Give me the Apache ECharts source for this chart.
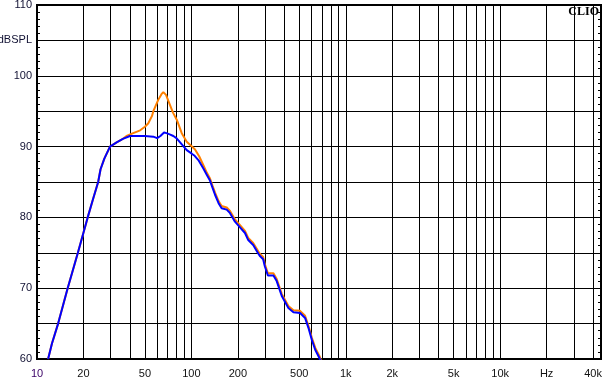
<!DOCTYPE html>
<html>
<head>
<meta charset="utf-8">
<script src="https://cdn.jsdelivr.net/npm/echarts@6/dist/echarts.min.js"></script>
<style>
html,body{margin:0;padding:0;background:#fff;}
#chart{width:611px;height:387px;}
</style>
</head>
<body>
<div id="chart"></div>
<script>
// Frequency response data (Hz, dB SPL)
const blueFreq = [11.8,12.5,13.7,15.8,18.4,21.3,23,24.9,25.8,27.3,29.7,32.8,36,40,50,56.7,60,63,66.5,69,73,76.4,80,84.5,93.3,100.6,105,111,119.6,126,132,137,142.3,150,157,169.4,178,191.6,206.6,222.4,233.5,251.4,271,279,291.7,299,313,340,357,385,425,458,506,545,573,603,634,676,690];
const blueDb   = [60,62.2,65,70,75,80,82.5,85,86.8,88.3,90,90.6,91.1,91.5,91.5,91.4,91.2,91.5,92,91.9,91.7,91.5,91.2,90.6,89.5,89,88.7,88.1,86.9,86.0,85.2,84.2,83.2,82,81.3,81.1,80.6,79.4,78.6,77.8,76.8,76.1,74.9,74.5,74.1,73.1,71.8,71.8,71.0,68.9,67.2,66.6,66.5,65.8,64.4,62.7,61.3,60.1,59.6];

const orangeFreq = [11.8,12.5,13.7,15.8,18.4,21.3,23,24.9,25.8,27.3,29.7,32.8,36,38,42,46.6,50,52.6,55.5,56.7,61,64,65.8,68.5,72.6,76,80.4,86.6,93.3,100,105.6,112.5,120,126,132,137,142.3,150,157,169.4,178,191.6,206.6,222.4,233.5,251.4,271,279,291.7,299,313,340,357,385,425,458,506,545,573,603,634,676,695];
const orangeDb   = [60,62.2,65,70,75,80,82.5,85,86.8,88.3,90,90.6,91.1,91.5,91.9,92.3,92.8,93.3,94.3,95.0,96.6,97.4,97.7,97.3,95.9,94.8,93.8,91.9,90.7,90.1,89.6,88.6,87.3,86.3,85.5,84.5,83.5,82.3,81.6,81.4,80.9,79.7,78.9,78.1,77.1,76.4,75.2,74.8,74.4,73.4,72.1,72.1,71.3,69.2,67.5,66.9,66.8,66.1,64.7,63.0,61.6,60.4,59.6];

const gridFreqs = [10,20,30,40,50,60,70,80,90,100,200,300,400,500,600,700,800,900,1000,2000,3000,4000,5000,6000,7000,8000,9000,10000,20000,30000,40000];
const labelFreqs = [10,20,50,100,200,500,1000,2000,5000,10000,20000,40000];
const freqMin = 10, freqMax = 45000;
const dbMin = 60, dbMax = 110;

const lg = Math.log10;
const toPts = (fs, ds) => fs.map((f, i) => [lg(f), ds[i]]);

function fmtFreq(v) {
  const f = Math.round(Math.pow(10, v));
  if (f === 20000) return 'Hz';
  if (f >= 1000) return (f / 1000) + 'k';
  return String(f);
}

const chart = echarts.init(document.getElementById('chart'), null, {renderer: 'canvas'});
const yCommon = {
  type: 'value', min: dbMin, max: dbMax, interval: 5,
  axisLine: {show: false},
  axisTick: {show: true, inside: true, length: 4, lineStyle: {color: '#000'}},
  minorTick: {show: true, splitNumber: 5, length: 3, lineStyle: {color: '#000'}},
};
chart.setOption({
  animation: false,
  backgroundColor: '#fff',
  grid: {left: 37, right: 10, top: 5, bottom: 28, show: true, borderColor: '#000', borderWidth: 2,
         backgroundColor: 'transparent', containLabel: false, outerBoundsMode: 'none'},
  xAxis: {
    type: 'value', min: lg(freqMin), max: lg(freqMax),
    axisLine: {show: false},
    axisTick: {show: false, customValues: gridFreqs.map(lg)},
    splitLine: {show: true, lineStyle: {color: '#000', width: 1}},
    axisLabel: {
      customValues: labelFreqs.map(lg),
      formatter: fmtFreq,
      margin: 9,
      hideOverlap: false,
      fontFamily: 'Liberation Sans, Arial, sans-serif',
      fontSize: 11,
      color: (v) => Math.round(Math.pow(10, v)) === 10 ? '#3a0066' : '#111'
    }
  },
  yAxis: [
    Object.assign({}, yCommon, {
      position: 'left',
      splitLine: {show: true, lineStyle: {color: '#000', width: 1}},
      axisLabel: {
        margin: 5,
        fontFamily: 'Liberation Sans, Arial, sans-serif',
        fontSize: 11,
        color: '#111133',
        formatter: (v) => v % 10 === 0 ? String(v) : (v === 105 ? 'dBSPL' : '')
      }
    }),
    Object.assign({}, yCommon, {
      position: 'right',
      splitLine: {show: false},
      axisLabel: {show: false}
    })
  ],
  graphic: [{
    type: 'text', right: 12, top: 6,
    style: {text: 'CLIO', font: 'bold 12px "Liberation Serif", "Times New Roman", serif', fill: '#000'}
  }],
  series: [
    {type: 'line', data: toPts(orangeFreq, orangeDb), showSymbol: false, symbol: 'none', clip: true,
     lineStyle: {color: '#ff8000', width: 2}, z: 3},
    {type: 'line', data: toPts(blueFreq, blueDb), showSymbol: false, symbol: 'none', clip: true,
     lineStyle: {color: '#0000ff', width: 2}, z: 4}
  ]
});
</script>
</body>
</html>
